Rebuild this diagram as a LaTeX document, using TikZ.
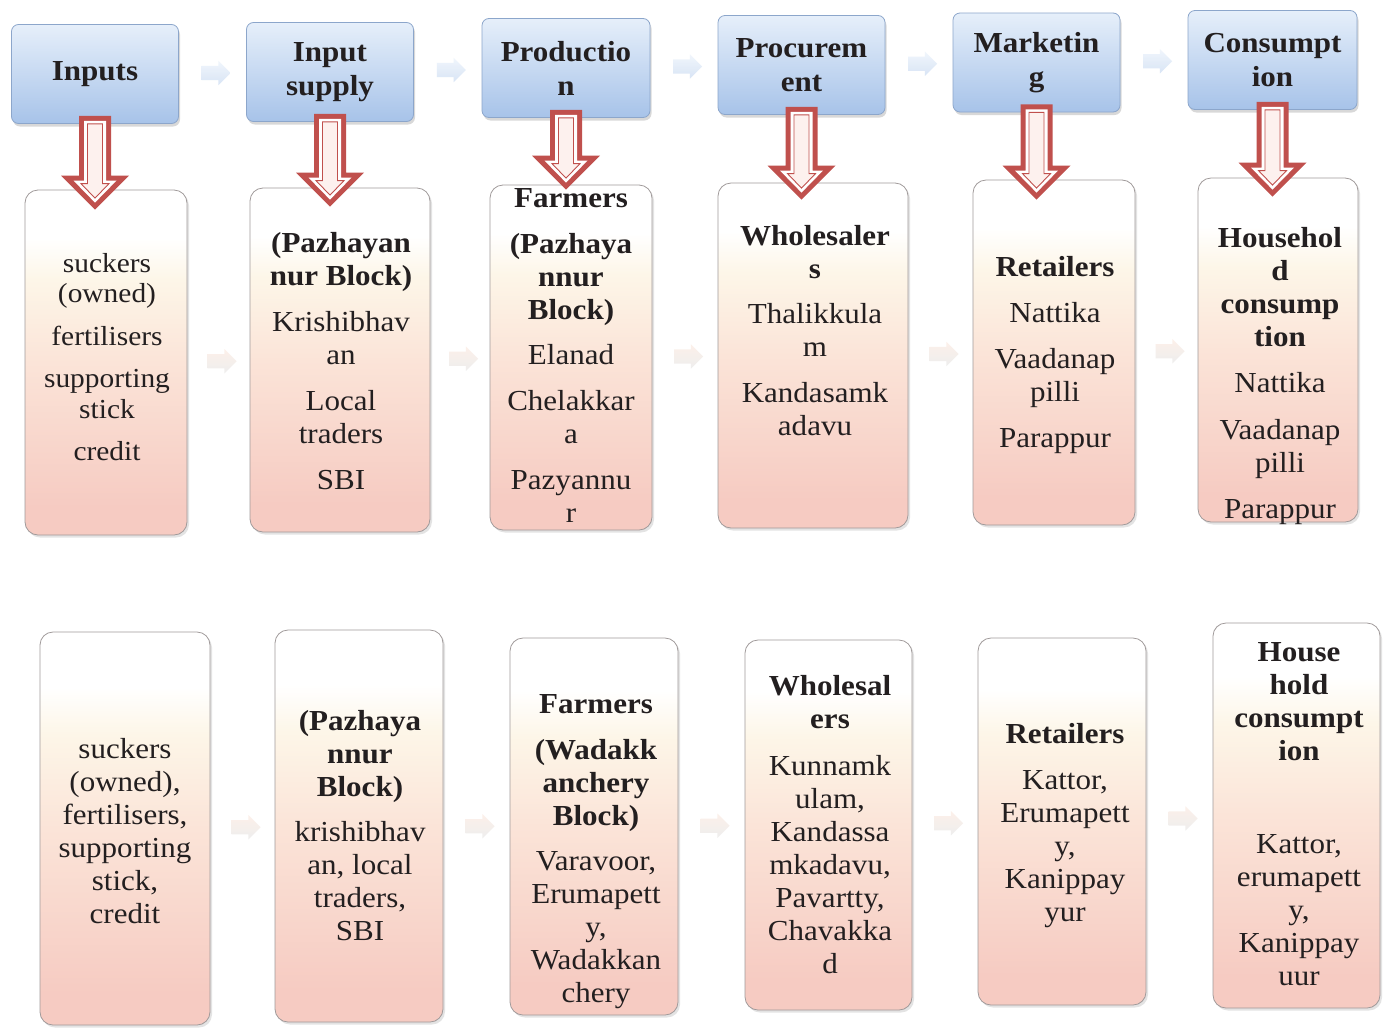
\documentclass[tikz,border=0pt]{standalone}
\usepackage{fontspec}
\setmainfont{Liberation Serif}[FakeStretch=1.07]
\usetikzlibrary{shapes.arrows,shadows,calc}

\definecolor{hdrtop}{HTML}{E6EFFA}
\definecolor{hdrbot}{HTML}{A7C3E9}
\definecolor{hdredge}{HTML}{8CA6CB}
\definecolor{boxedge}{HTML}{A09A9A}
\definecolor{pinkbot}{HTML}{F6CBC2}
\definecolor{peach}{HTML}{FBE4D8}
\definecolor{cream}{HTML}{FDF6E8}
\definecolor{arrowred}{HTML}{C0504D}
\definecolor{arrowin}{HTML}{FDF1EE}
\definecolor{inkdark}{HTML}{231F20}

% white at the top, cream and peach in the middle, pink at the bottom
\pgfdeclareverticalshading{stagefill}{100bp}{color(0bp)=(pinkbot); color(29bp)=(pinkbot); color(50bp)=(peach); color(62bp)=(cream); color(68bp)=(white); color(100bp)=(white)}

\newcommand\txtsize{\fontsize{29}{33}\selectfont}
\newcommand\hdrsize{\fontsize{29}{34}\selectfont\bfseries}

% hollow red block arrow from a header down into its stage box
\newcommand\fatarrow[4]{%
  \coordinate (#4top) at ($(#1.south)+(0pt,8pt)$);
  \path let \p1=(#1.south), \p2=(#2.north) in coordinate (#4tip) at (\x1,\y2-#3);
  \fill[arrowred] ($(#4top)+(-16pt,0pt)$) -- ($(#4tip)+(-16pt,34pt)$) -- ($(#4tip)+(-34pt,34pt)$)
    -- (#4tip) -- ($(#4tip)+(34pt,34pt)$) -- ($(#4tip)+(16pt,34pt)$) -- ($(#4top)+(16pt,0pt)$) -- cycle;
  \fill[white] ($(#4top)+(-11pt,-5pt)$) -- ($(#4tip)+(-11pt,29pt)$) -- ($(#4tip)+(-21.5pt,29pt)$)
    -- ($(#4tip)+(0pt,7pt)$) -- ($(#4tip)+(21.5pt,29pt)$) -- ($(#4tip)+(11pt,29pt)$) -- ($(#4top)+(11pt,-5pt)$) -- cycle;
  \filldraw[fill=arrowin, draw=arrowred, line width=0.9pt] ($(#4top)+(-7.5pt,-8pt)$) -- ($(#4tip)+(-7.5pt,26pt)$) -- ($(#4tip)+(-14pt,26pt)$)
    -- ($(#4tip)+(0pt,11.5pt)$) -- ($(#4tip)+(14pt,26pt)$) -- ($(#4tip)+(7.5pt,26pt)$) -- ($(#4top)+(7.5pt,-8pt)$) -- cycle;
}

\tikzset{
  hdr/.style={rounded corners=7pt, draw=hdredge, line width=0.8pt,
    top color=hdrtop, bottom color=hdrbot, minimum width=167pt, minimum height=99pt,
    inner sep=0pt, align=center, font=\hdrsize, text=inkdark,
    drop shadow={shadow xshift=1.5pt, shadow yshift=-3pt, opacity=0.3}},
  stage/.style={rounded corners=13pt, draw=boxedge, line width=0.8pt, shading=stagefill,
    inner sep=0pt, drop shadow={shadow xshift=2pt, shadow yshift=-2.5pt, opacity=0.22}},
  lbl/.style={anchor=north, inner sep=0pt, align=center, font=\txtsize, text=inkdark},
  chev/.style={single arrow, single arrow head extend=5pt, minimum height=29pt,
    inner sep=7pt, draw=none},
  chevtop/.style={chev, top color=hdrtop!70!white, bottom color=hdrbot!55!white, opacity=0.8},
  chevlow/.style={chev, top color=peach, bottom color=black!12!white, opacity=0.55}
}

\begin{document}
\begin{tikzpicture}[x=1pt,y=-1pt]
\fill[white] (0,0) rectangle (1383,1031);
\useasboundingbox (0,0) rectangle (1383,1031);

% stage headers
\node[hdr] (h1) at (95,74)     {Inputs};
\node[hdr] (h2) at (330,72)    {Input\\supply};
\node[hdr, minimum width=168pt] (h3) at (566,68) {Productio\\n};
\node[hdr] (h4) at (801.5,65)  {Procurem\\ent};
\node[hdr] (h5) at (1036.5,62.5) {Marketin\\g};
\node[hdr, minimum width=169pt] (h6) at (1272.5,60) {Consumpt\\ion};

% first chain of stage boxes
\node[stage, minimum width=162pt, minimum height=345pt] (m1) at (106,362.5) {};
\node[stage, minimum width=180pt, minimum height=344pt] (m2) at (340,360) {};
\node[stage, minimum width=162pt, minimum height=345pt] (m3) at (571,357.5) {};
\node[stage, minimum width=190pt, minimum height=345pt] (m4) at (813,355.5) {};
\node[stage, minimum width=162pt, minimum height=345pt] (m5) at (1054,352.5) {};
\node[stage, minimum width=160pt, minimum height=344pt] (m6) at (1278,350) {};

% second chain of stage boxes
\node[stage, minimum width=170pt, minimum height=393pt] (b1) at (125,828.5) {};
\node[stage, minimum width=168pt, minimum height=392pt] (b2) at (359,826) {};
\node[stage, minimum width=168pt, minimum height=377pt] (b3) at (594,826.5) {};
\node[stage, minimum width=167pt, minimum height=370pt] (b4) at (828.5,825) {};
\node[stage, minimum width=168pt, minimum height=367pt] (b5) at (1062,821.5) {};
\node[stage, minimum width=167pt, minimum height=385pt] (b6) at (1296.5,815.5) {};

% small flow arrows between neighbours
\node[chevtop] (ch12) at ($(h1.east)!0.5!(h2.west)$) {};
\node[chevtop] (ch23) at ($(h2.east)!0.5!(h3.west)$) {};
\node[chevtop] (ch34) at ($(h3.east)!0.5!(h4.west)$) {};
\node[chevtop] (ch45) at ($(h4.east)!0.5!(h5.west)$) {};
\node[chevtop] (ch56) at ($(h5.east)!0.5!(h6.west)$) {};
\node[chevlow] (cm12) at ($(m1.east)!0.5!(m2.west)$) {};
\node[chevlow] (cm23) at ($(m2.east)!0.5!(m3.west)$) {};
\node[chevlow] (cm34) at ($(m3.east)!0.5!(m4.west)$) {};
\node[chevlow] (cm45) at ($(m4.east)!0.5!(m5.west)$) {};
\node[chevlow] (cm56) at ($(m5.east)!0.5!(m6.west)$) {};
\node[chevlow] (cb12) at ($(b1.east)!0.5!(b2.west)$) {};
\node[chevlow] (cb23) at ($(b2.east)!0.5!(b3.west)$) {};
\node[chevlow] (cb34) at ($(b3.east)!0.5!(b4.west)$) {};
\node[chevlow] (cb45) at ($(b4.east)!0.5!(b5.west)$) {};
\node[chevlow] (cb56) at ($(b5.east)!0.5!(b6.west)$) {};

% header-to-box arrows
\fatarrow{h1}{m1}{20pt}{d1}
\fatarrow{h2}{m2}{19pt}{d2}
\fatarrow{h3}{m3}{5pt}{d3}
\fatarrow{h4}{m4}{17pt}{d4}
\fatarrow{h5}{m5}{20pt}{d5}
\fatarrow{h6}{m6}{19pt}{d6}

% texts of the first chain
\node[lbl, font=\fontsize{27.5}{30.5}\selectfont] (tm1) at (107,253)
  {suckers\\(owned)\\[12pt]fertilisers\\[12pt]supporting\\stick\\[12pt]credit};
\node[lbl] (tm2) at (341,232)
  {\textbf{(Pazhayan}\\\textbf{nur Block)}\\[13pt]Krishibhav\\an\\[13pt]Local\\traders\\[13pt]SBI};
\node[lbl] (tm3) at (571,188)
  {\textbf{Farmers}\\[13pt]\textbf{(Pazhaya}\\\textbf{nnur}\\\textbf{Block)}\\[12pt]Elanad\\[13pt]Chelakkar\\a\\[13pt]Pazyannu\\r};
\node[lbl] (tm4) at (815,225)
  {\textbf{Wholesaler}\\\textbf{s}\\[12pt]Thalikkula\\m\\[13pt]Kandasamk\\adavu};
\node[lbl] (tm5) at (1055,256)
  {\textbf{Retailers}\\[13pt]Nattika\\[13pt]Vaadanap\\pilli\\[13pt]Parappur};
\node[lbl] (tm6) at (1280,227)
  {\textbf{Househol}\\\textbf{d}\\\textbf{consump}\\\textbf{tion}\\[13pt]Nattika\\[14pt]Vaadanap\\pilli\\[13pt]Parappur};

% texts of the second chain
\node[lbl] (tb1) at (125,738)
  {suckers\\(owned),\\fertilisers,\\supporting\\stick,\\credit};
\node[lbl] (tb2) at (360,710)
  {\textbf{(Pazhaya}\\\textbf{nnur}\\\textbf{Block)}\\[12pt]krishibhav\\an, local\\traders,\\SBI};
\node[lbl] (tb3) at (596,694)
  {\textbf{Farmers}\\[13pt]\textbf{(Wadakk}\\\textbf{anchery}\\\textbf{Block)}\\[12pt]Varavoor,\\Erumapett\\y,\\Wadakkan\\chery};
\node[lbl] (tb4) at (830,675)
  {\textbf{Wholesal}\\\textbf{ers}\\[14pt]Kunnamk\\ulam,\\Kandassa\\mkadavu,\\Pavartty,\\Chavakka\\d};
\node[lbl] (tb5) at (1065,723)
  {\textbf{Retailers}\\[13pt]Kattor,\\Erumapett\\y,\\Kanippay\\yur};
\node[lbl] (tb6) at (1299,642)
  {\textbf{House}\\\textbf{hold}\\\textbf{consumpt}\\\textbf{ion}\\[60pt]Kattor,\\erumapett\\y,\\Kanippay\\uur};
\end{tikzpicture}
\end{document}
